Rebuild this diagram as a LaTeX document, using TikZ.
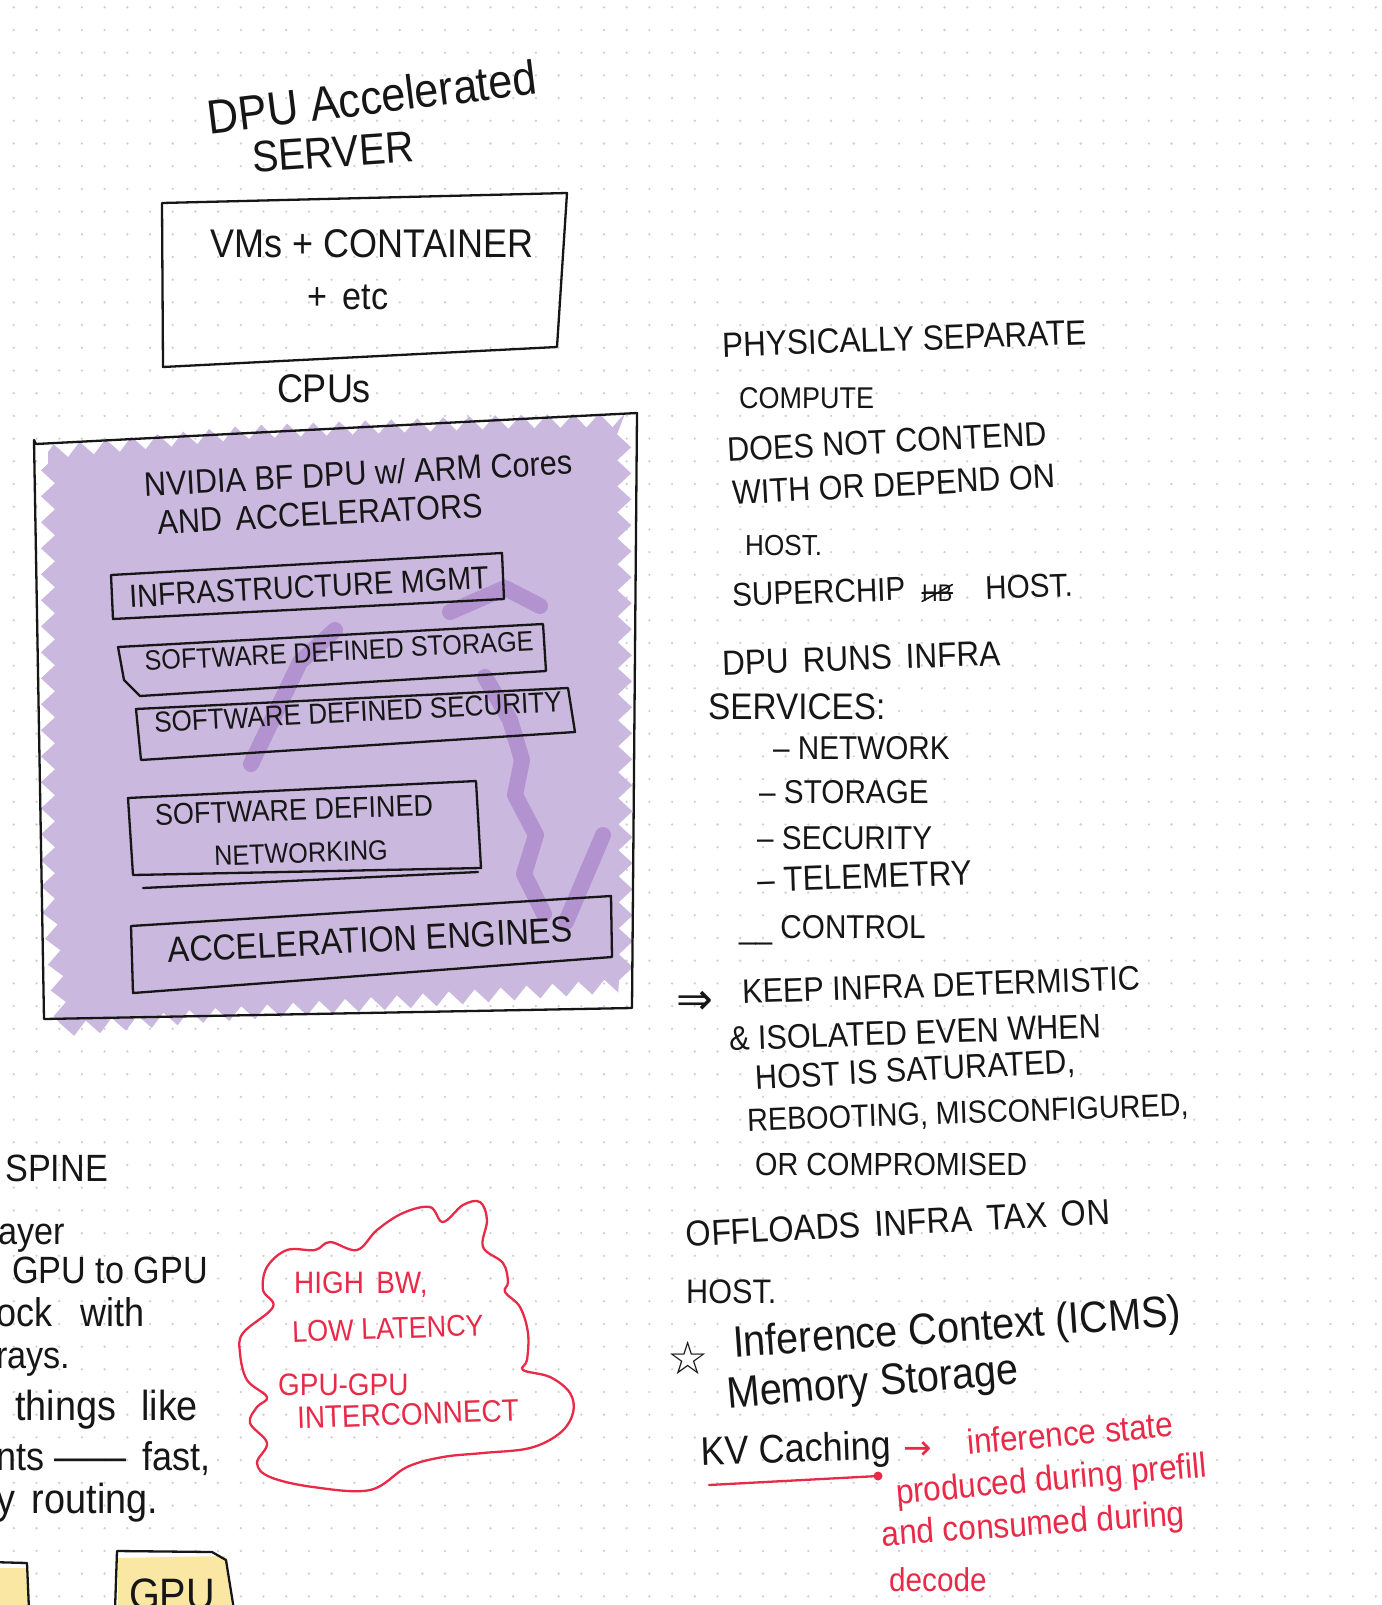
\documentclass[tikz,border=0pt]{standalone}
\usepackage{fontspec}
\setmainfont{Liberation Sans}
\newfontfamily\hand[FakeStretch=0.9]{Liberation Sans}
\newfontfamily\symf{DejaVu Sans}
\usetikzlibrary{decorations.pathmorphing}
\definecolor{ink}{RGB}{22,22,22}
\definecolor{dpupurple}{RGB}{202,184,222}
\definecolor{dpudark}{RGB}{168,130,202}
\definecolor{redink}{RGB}{232,42,72}
\definecolor{gpuyellow}{RGB}{250,231,164}
\definecolor{griddot}{RGB}{208,208,208}
\newcommand\hsp{\hspace{0.4em}}
\tikzset{
  hw/.style={font=\hand\fontsize{#1}{#1}\selectfont, inner sep=0pt, text=ink},
  hw/.default=34,
  hwl/.style={hw=#1, anchor=west},
  hwl/.default=34,
  redtext/.style={hw=#1, anchor=west, text=redink},
  redtext/.default=34,
  sketch/.style={draw=ink, line width=2.3pt, line join=round, line cap=round},
  redline/.style={draw=redink, line width=2.3pt, line join=round, line cap=round},
}
\begin{document}
\begin{tikzpicture}[x=1pt,y=-1pt]
\useasboundingbox (0,0) rectangle (1381,1605);
\fill[white] (0,0) rectangle (1381,1605);
\clip (0,0) rectangle (1381,1605);
% dot grid
\foreach \i in {0,...,60}{\foreach \j in {0,...,70}{\fill[griddot] (13.8+\i*22.7,7.3+\j*22.7) circle (1.3);}}

% ---------- title ----------
\node[hw=48, rotate=7] (title1) at (372,97) {DPU Accelerated};
\node[hw=44, rotate=4] (title2) at (333,152) {SERVER};

% ---------- host box ----------
\draw[sketch] (162,203) -- (567,193) -- (562,270) -- (557,347) -- (163,367) -- cycle;
\node[hw=40] (vms) at (372,244) {VMs + CONTAINER};
\node[hw=38] (etc) at (348,297) {+\hsp etc};
\node[hw=40] (cpus) at (324,389) {CPUs};

% ---------- DPU box ----------
\fill[dpupurple, decorate, decoration={zigzag, segment length=26, amplitude=7}]
  (48,452) -- (250,432) -- (500,422) -- (624,420) -- (626,985) -- (400,1002) -- (200,1016) -- (62,1030) -- (48,900) -- cycle;
\begin{scope}[line cap=round, line join=round, line width=16pt, dpudark, opacity=0.7]
  \draw (251,764) -- (300,662) -- (335,630);
  \draw (450,612) -- (505,588) -- (540,606);
  \draw (485,677) -- (510,720) -- (522,760) -- (515,795) -- (536,835) -- (524,874) -- (544,914);
  \draw (566,922) -- (603,835);
\end{scope}
\draw[sketch] (34,440) -- (36,444) -- (637,413) -- (632,1008) -- (44,1019) -- cycle;
\node[hw=34, rotate=3] (nv1) at (358,473) {NVIDIA BF DPU w/ ARM Cores};
\node[hw=34, rotate=3] (nv2) at (320,514) {AND\hsp ACCELERATORS};

\draw[sketch] (111,575) -- (502,553) -- (504,599) -- (113,619) -- cycle;
\node[hw=32, rotate=3] (infra) at (309,587) {INFRASTRUCTURE MGMT};

\draw[sketch] (118,647) -- (543,624) -- (546,671) -- (140,696) -- (124,680) -- cycle;
\node[hw=28, rotate=3] (sds) at (339,651) {SOFTWARE DEFINED STORAGE};

\draw[sketch] (136,709) -- (568,688) -- (575,732) -- (141,760) -- cycle;
\node[hw=29, rotate=3] (sdsec) at (358,712) {SOFTWARE DEFINED SECURITY};

\draw[sketch] (128,798) -- (476,781) -- (481,868) -- (133,875) -- cycle;
\draw[sketch] (143,888) -- (478,872);
\node[hw=30, rotate=2] (sdn1) at (294,810) {SOFTWARE DEFINED};
\node[hw=28, rotate=2] (sdn2) at (301,853) {NETWORKING};

\draw[sketch] (131,926) -- (611,896) -- (612,957) -- (133,993) -- cycle;
\node[hw=36, rotate=3] (accel) at (370,940) {ACCELERATION ENGINES};

% ---------- right notes ----------
\node[hwl=35, rotate=2] (n1) at (722,345) {PHYSICALLY SEPARATE};
\node[hwl=30] (n2) at (739,398) {COMPUTE};
\node[hwl=34, rotate=3] (n3) at (727,450) {DOES NOT CONTEND};
\node[hwl=34, rotate=3] (n4) at (732,493) {WITH OR DEPEND ON};
\node[hwl=29] (n5) at (745,546) {HOST.};
\node[hwl=33, rotate=2] (n6a) at (732,595) {SUPERCHIP};
\node[hwl=24] (hb) at (922,593) {HB};
\draw[sketch, line width=1.6pt] (hb.south west) -- (hb.north east);
\draw[sketch, line width=1.6pt] (hb.west) -- (hb.east);
\node[hwl=33, rotate=2] (n6b) at (985,588) {HOST.};
\node[hwl=35, rotate=2] (n7) at (722,663) {DPU\hsp RUNS\hsp INFRA};
\node[hwl=37] (n8) at (708,707) {SERVICES:};
\node[hwl=33] (s1) at (773,748) {– NETWORK};
\node[hwl=33] (s2) at (759,792) {– STORAGE};
\node[hwl=33] (s3) at (757,838) {– SECURITY};
\node[hwl=35, rotate=2] (s4) at (757,880) {– TELEMETRY};
\node[hwl=33] (s5) at (739,930) {\_\_ CONTROL};

\node[anchor=west, inner sep=0pt, font=\symf\fontsize{44}{44}\selectfont, text=ink] (imp) at (676,1003) {⇒};
\node[hwl=34, rotate=2] (k1) at (742,992) {KEEP INFRA DETERMISTIC};
\node[hwl=34, rotate=2] (k2) at (729,1039) {\& ISOLATED EVEN WHEN};
\node[hwl=34, rotate=3] (k3) at (755,1080) {HOST IS SATURATED,};
\node[hwl=32, rotate=2] (k4) at (747,1122) {REBOOTING, MISCONFIGURED,};
\node[hwl=32] (k5) at (755,1164) {OR COMPROMISED};

\node[hwl=36, rotate=3] (o1) at (686,1234) {OFFLOADS\hsp INFRA\hsp TAX\hsp ON};
\node[hwl=34] (o2) at (686,1292) {HOST.};

\node[inner sep=0pt, font=\symf\fontsize{46}{46}\selectfont, text=ink] (star) at (688,1358) {☆};
\node[hwl=44, rotate=4] (ic1) at (733,1346) {Inference Context (ICMS)};
\node[hwl=44, rotate=5] (ic2) at (727,1398) {Memory Storage};
\node[hwl=40, rotate=2] (kv) at (701,1455) {KV Caching};
\coordinate (ulA) at (709,1485);
\coordinate (ulB) at (878,1476);
\draw[redline] (ulA) -- (ulB);
\fill[redink] (ulB) circle (4.5);
\node[anchor=west, inner sep=0pt, font=\symf\fontsize{34}{34}\selectfont, text=redink] (rarr) at (903,1451) {→};
\node[redtext=35, rotate=5] (r1) at (967,1442) {inference state};
\node[redtext=35, rotate=5] (r2) at (896,1495) {produced during prefill};
\node[redtext=35, rotate=4] (r3) at (882,1537) {and consumed during};
\node[redtext=33] (r4) at (889,1580) {decode};

% ---------- left (cut) notes ----------
\node[hwl=38] (spine) at (5,1168) {SPINE};
\node[hwl=38] (l1) at (-2,1238) {ayer};
\node[hwl=38] (l2) at (12,1270) {GPU to GPU};
\node[hwl=40] (l3) at (-4,1312) {ock\hspace{0.7em}with};
\node[hwl=38] (l4) at (-4,1362) {rays.};
\node[hwl=42] (l5) at (15,1410) {things\hspace{0.6em}like};
\node[hwl=40] (l6) at (-4,1459) {nts ——\hsp fast,};
\node[hwl=42] (l7) at (-4,1503) {y\hsp routing.};

% ---------- cloud ----------
\draw[redline] plot[smooth cycle, tension=0.6] coordinates {
  (315,1250) (330,1242) (357,1250) (377,1230) (403,1213) (430,1207) (443,1222)
  (463,1205) (480,1202) (487,1220) (483,1247) (503,1263) (508,1282) (505,1292)
  (520,1307) (528,1333) (527,1360) (523,1370) (550,1377) (570,1393) (573,1413)
  (560,1433) (530,1448) (483,1453) (443,1457) (407,1467) (370,1490) (313,1487)
  (270,1477) (257,1463) (267,1443) (250,1423) (257,1407) (267,1397) (247,1380)
  (240,1353) (243,1333) (273,1307) (263,1290) (267,1267) (287,1250)};
\node[hw=31, text=redink, anchor=west] (c1) at (294,1285) {HIGH\hsp BW,};
\node[hw=30, text=redink, anchor=west, rotate=2] (c2) at (292,1332) {LOW LATENCY};
\node[hw=31, text=redink, anchor=west] (c3) at (278,1385) {GPU-GPU};
\node[hw=31, text=redink, anchor=west, rotate=2] (c4) at (297,1418) {INTERCONNECT};

% ---------- GPU boxes ----------
\fill[gpuyellow] (-10,1568) -- (26,1568) -- (28,1610) -- (-10,1610) -- cycle;
\draw[sketch] (-10,1562) -- (27,1563) -- (29,1610);
\fill[gpuyellow] (118,1558) -- (225,1556) -- (232,1610) -- (118,1610) -- cycle;
\draw[sketch] (115,1610) -- (117,1551) -- (212,1552) -- (226,1560) -- (234,1610);
\node[hw=44] (gpu) at (172,1594) {GPU};
\end{tikzpicture}
\end{document}
